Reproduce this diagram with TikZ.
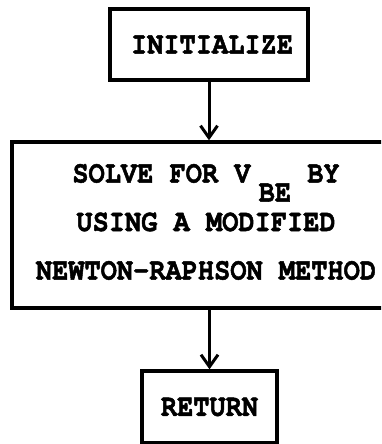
\documentclass[tikz,border=0pt]{standalone}
\usepackage{fontspec}
\setmonofont{TeX Gyre Cursor}[FakeStretch=0.871, BoldFeatures={FakeBold=1.6}]
\usetikzlibrary{arrows.meta}
\begin{document}
\begin{tikzpicture}[x=1pt,y=-1pt,
  box/.style={draw, line width=3.4pt, inner sep=0pt,
    font=\fontsize{31}{26}\selectfont\ttfamily\bfseries},
  flow/.style={line width=3pt,
    -{Straight Barb[length=12pt,width=17pt,line width=3pt]}}]
% page area
\fill[white] (0,0) rectangle (381,444);
\clip (0,0) rectangle (381,444);
% flowchart boxes
\node[box, minimum width=198pt, minimum height=71pt] (init) at (209,44.5)
  {\hspace*{6pt}INITIALIZE};
\node[box, minimum width=388pt, minimum height=166pt, align=center] (solve) at (206,225)
  {\rule{0pt}{20pt}SOLVE FOR V\hspace{8.1pt}\raisebox{-19pt}[0pt][0pt]{BE} BY\\[22.5pt]
   USING A MODIFIED\\[22.5pt]
   NEWTON-RAPHSON METHOD\rule[-8pt]{0pt}{8pt}};
\node[box, minimum width=135pt, minimum height=72pt] (ret) at (209.5,407) {RETURN};
% connectors
\draw[flow] (init.south) -- (init.south |- solve.north);
\draw[flow] (ret.north |- solve.south) -- (ret.north);
\end{tikzpicture}
\end{document}
